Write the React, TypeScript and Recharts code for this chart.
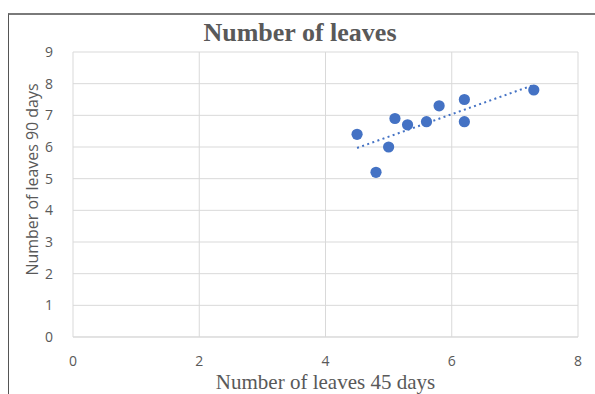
import { ScatterChart, Scatter, XAxis, YAxis, CartesianGrid } from "recharts";

const leaves45 = [4.5, 4.8, 5.0, 5.1, 5.3, 5.6, 5.8, 6.2, 6.2, 7.3];
const leaves90 = [6.4, 5.2, 6.0, 6.9, 6.7, 6.8, 7.3, 7.5, 6.8, 7.8];
const trendEnds = [
  { x: 4.5, y: 5.97 },
  { x: 7.3, y: 7.96 },
];
const xTicks = [0, 2, 4, 6, 8];
const yTicks = [0, 1, 2, 3, 4, 5, 6, 7, 8, 9];

const points = leaves45.map((x, i) => ({ x, y: leaves90[i] }));

const blue = "#4472c4";
const grey = "#595959";

// y axis title sits in the axis band, a bit above the middle of the plot
const YTitle = ({ viewBox }: any) => {
  const x = viewBox.x + 18;
  const y = viewBox.y + viewBox.height / 2 - 15;
  return (
    <text
      x={x}
      y={y}
      transform={`rotate(-90 ${x} ${y})`}
      textAnchor="middle"
      dominantBaseline="central"
      fill={grey}
      fontSize={16.5}
      textLength={192}
      lengthAdjust="spacingAndGlyphs"
      fontFamily="'Open Sans', sans-serif"
    >
      Number of leaves 90 days
    </text>
  );
};

export default function App() {
  return (
    <div
      style={{
        position: "absolute",
        left: 0,
        top: 0,
        width: 595,
        height: 394,
        background: "#fff",
        overflow: "hidden",
      }}
    >
      <div
        style={{
          position: "absolute",
          left: 8,
          top: 13,
          width: 600,
          height: 400,
          borderLeft: "1.5px solid #555",
          borderTop: "2px solid #7a7a7a",
        }}
      />
      <div
        style={{
          position: "absolute",
          left: 0,
          width: 600,
          top: 18,
          textAlign: "center",
          fontFamily: "'Liberation Serif', 'Times New Roman', serif",
          fontWeight: "bold",
          fontSize: 26,
          color: grey,
        }}
      >
        Number of leaves
      </div>
      <ScatterChart
        width={595}
        height={394}
        margin={{ top: 52, right: 17, bottom: 27, left: 13 }}
        style={{ position: "absolute", left: 0, top: 0 }}
      >
        <CartesianGrid stroke="#d9d9d9" strokeWidth={1} />
        <XAxis
          type="number"
          dataKey="x"
          domain={[0, 8]}
          ticks={xTicks}
          height={30}
          tickLine={false}
          tickSize={0}
          tickMargin={19}
          axisLine={{ stroke: "#d9d9d9" }}
          tick={{ fill: grey, fontSize: 14, fontFamily: "'Open Sans', sans-serif" }}
          label={{
            value: "Number of leaves 45 days",
            position: "insideBottom",
            offset: -22,
            fill: grey,
            fontSize: 21,
            fontFamily: "'Liberation Serif', 'Times New Roman', serif",
          }}
        />
        <YAxis
          type="number"
          dataKey="y"
          domain={[0, 9]}
          ticks={yTicks}
          width={60}
          tickLine={false}
          tickSize={0}
          tickMargin={20}
          axisLine={false}
          tick={{ fill: grey, fontSize: 14, fontFamily: "'Open Sans', sans-serif" }}
          label={<YTitle />}
        />
        <Scatter
          data={trendEnds}
          line={{ stroke: blue, strokeWidth: 2, strokeDasharray: "2 3.4" }}
          shape={() => null}
          isAnimationActive={false}
        />
        <Scatter
          data={points}
          fill={blue}
          shape={(p: any) => <circle cx={p.cx} cy={p.cy} r={5.6} fill={blue} />}
          isAnimationActive={false}
        />
      </ScatterChart>
    </div>
  );
}
